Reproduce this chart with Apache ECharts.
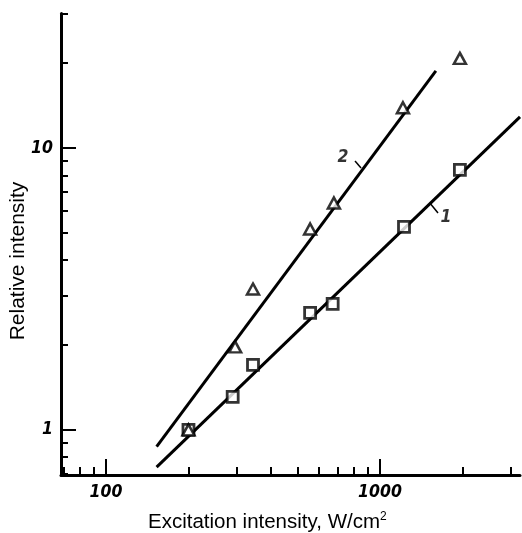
<!DOCTYPE html>
<html>
<head>
<meta charset="utf-8">
<script src="https://cdn.jsdelivr.net/npm/echarts@6/dist/echarts.min.js"></script>
<style>
html,body{margin:0;padding:0;background:#fff;}
#c{width:522px;height:533px;}
</style>
</head>
<body>
<div id="c"></div>
<script>
// ---- data ----
const xMajorTicks = [100, 1000];
const xMinorTicks = [70, 80, 90, 200, 300, 400, 500, 600, 700, 800, 900, 2000, 3000];
const yMajorTicks = [1, 10];
const yMinorTicks = [0.7, 0.8, 0.9, 2, 3, 4, 5, 6, 7, 8, 9, 20, 30];
const squares = [[200, 1.0], [290, 1.31], [344, 1.70], [556, 2.60], [672, 2.80], [1224, 5.25], [1958, 8.36]];
const triangles = [[200, 1.0], [296, 1.97], [344, 3.16], [556, 5.16], [679, 6.38], [1213, 13.9], [1958, 20.8]];
const fit1 = [[153, 0.738], [3245, 12.9]];
const fit2 = [[153, 0.873], [1600, 18.76]];
const leader1 = [[1521, 6.38], [1629, 5.88]];
const leader2 = [[853, 8.49], [811, 8.99]];
const label1 = [[1741, 5.69, '1']];
const label2 = [[733, 9.29, '2']];
const xName = 'Excitation intensity, W/cm';
const yName = 'Relative intensity';

const tickFont = {fontFamily: '"Liberation Sans Narrow","DejaVu Sans Condensed",sans-serif', fontWeight: 'bold', fontStyle: 'italic', fontSize: 17.5, color: '#000'};
const X_MIN = 68.5, X_MAX = 3245, Y_MIN = 0.692, Y_MAX = 30;
const grid = {left: 61, right: 2, top: 13.5, bottom: 58};

const chart = echarts.init(document.getElementById('c'));
function xAx(major) {
  return {
    type: 'log', logBase: 10, min: X_MIN, max: X_MAX, position: 'bottom',
    axisLine: {show: major, onZero: false, lineStyle: {color: '#000', width: 3}},
    axisTick: {show: true, inside: true, length: major ? 16 : 8, customValues: major ? xMajorTicks : xMinorTicks, lineStyle: {color: '#000', width: 2}},
    axisLabel: {show: major, customValues: xMajorTicks, margin: 8, ...tickFont, formatter: v => String(Math.round(v))},
    splitLine: {show: false}, minorTick: {show: false}
  };
}
function yAx(major) {
  return {
    type: 'log', logBase: 10, min: Y_MIN, max: Y_MAX, position: 'left',
    axisLine: {show: major, onZero: false, lineStyle: {color: '#000', width: 3}},
    axisTick: {show: true, inside: true, length: major ? 15 : 7, customValues: major ? yMajorTicks : yMinorTicks, lineStyle: {color: '#000', width: 2}},
    axisLabel: {show: major, customValues: yMajorTicks, margin: 8, ...tickFont, formatter: v => String(Math.round(v))},
    splitLine: {show: false}, minorTick: {show: false}
  };
}
const lineStyle = {color: '#000', width: 3};
chart.setOption({
  animation: false,
  backgroundColor: '#fff',
  grid: grid,
  xAxis: [xAx(true), xAx(false)],
  yAxis: [yAx(true), yAx(false)],
  series: [
    {type: 'line', data: fit1, symbol: 'none', lineStyle: lineStyle, z: 2},
    {type: 'line', data: fit2, symbol: 'none', lineStyle: lineStyle, z: 2},
    {type: 'line', data: leader1, symbol: 'none', lineStyle: {color: '#000', width: 1.5}, z: 2},
    {type: 'line', data: leader2, symbol: 'none', lineStyle: {color: '#000', width: 1.5}, z: 2},
    {type: 'scatter', data: squares, symbol: 'rect', symbolSize: 11,
     itemStyle: {color: '#fff', borderColor: '#000', borderWidth: 2.8}, z: 5},
    {type: 'scatter', data: triangles, symbol: 'triangle', symbolSize: [12, 11],
     itemStyle: {color: '#fff', borderColor: '#000', borderWidth: 2.5}, z: 5},
    {type: 'scatter', data: label1.concat(label2), symbolSize: 0,
     label: {show: true, position: 'inside', formatter: p => p.data[2], ...tickFont}, z: 6}
  ],
  graphic: [
    {type: 'text', left: 148, top: 511, style: {rich: {a: {fontFamily: '"Liberation Sans",Arial,sans-serif', fontSize: 20.5, fill: '#000'}, s: {fontFamily: '"Liberation Sans",Arial,sans-serif', fontSize: 12, fill: '#000', verticalAlign: 'top', padding: [0,0,10,0]}}, text: '{a|' + xName + '}{s|2}'}},
    {type: 'text', x: 18, y: 261, rotation: Math.PI / 2, style: {text: yName, fontFamily: '"Liberation Sans",Arial,sans-serif', fontSize: 21, fill: '#000', align: 'center', verticalAlign: 'middle'}}
  ]
});
</script>
</body>
</html>
